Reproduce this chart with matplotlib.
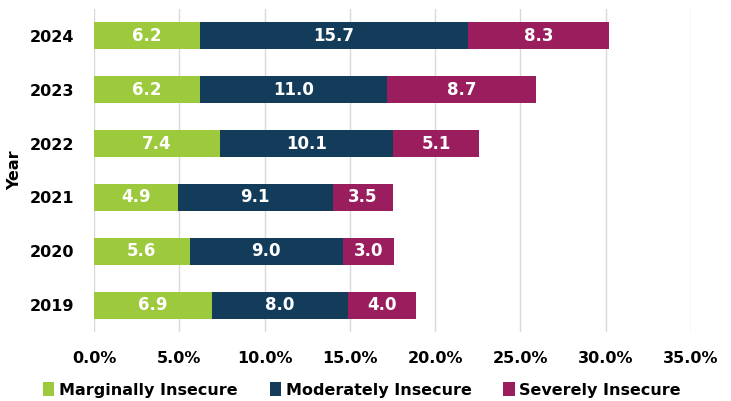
import matplotlib.pyplot as plt
import numpy as np

years = ["2019", "2020", "2021", "2022", "2023", "2024"]
marginal = [6.9, 5.6, 4.9, 7.4, 6.2, 6.2]
moderate = [8.0, 9.0, 9.1, 10.1, 11.0, 15.7]
severe = [4.0, 3.0, 3.5, 5.1, 8.7, 8.3]

series = [
    ("Marginally Insecure", marginal, "#9dc93c"),
    ("Moderately Insecure", moderate, "#133c5b"),
    ("Severely Insecure", severe, "#9a1d5e"),
]

plt.rcParams['font.family'] = ['DejaVu Sans']
plt.rcParams['font.weight'] = 'bold'

fig = plt.figure(figsize=(7.31, 4.01), dpi=100)
ax = fig.add_axes([94 / 731, 1 - 332 / 401, (691 - 94) / 731, 323 / 401])

y = np.arange(len(years))
left = np.zeros(len(years))
for name, vals, color in series:
    vals = np.array(vals)
    ax.barh(y, vals, left=left, height=0.5, color=color, label=name, zorder=3)
    for yi, l, v in zip(y, left, vals):
        ax.text(l + v / 2, yi, f"{v:.1f}", ha="center", va="center",
                color="white", fontsize=12, fontweight="bold", zorder=4)
    left = left + vals

ax.set_xlim(0, 35)
ax.set_ylim(-0.5, len(years) - 0.5)
ax.set_xticks(np.arange(0, 36, 5))
ax.set_xticklabels([f"{t:.1f}%" for t in np.arange(0, 36, 5)])
ax.set_yticks(y)
ax.set_yticklabels(years)
ax.tick_params(axis="both", length=0, labelsize=11.5, colors="black")
ax.tick_params(axis="x", pad=14)
ax.tick_params(axis="y", pad=14)
ax.grid(axis="x", color="#d9d9d9", linewidth=1, zorder=0)
for s in ax.spines.values():
    s.set_visible(False)
ax.set_ylabel("Year", fontsize=11.5, fontweight="bold", labelpad=6)

fig.legend(loc="center", bbox_to_anchor=(362 / 731, 1 - 390 / 401), ncol=3,
           frameon=False, fontsize=11.5, handlelength=0.7, handleheight=0.9,
           handletextpad=0.3, columnspacing=2.0)

plt.savefig("out.png", dpi=100)
